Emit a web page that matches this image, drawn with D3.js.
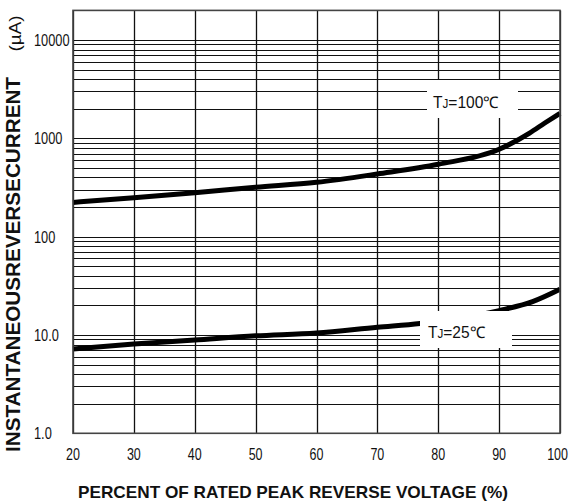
<!DOCTYPE html>
<html>
<head>
<meta charset="utf-8">
<script src="https://cdn.jsdelivr.net/npm/d3@7"></script>
<style>
  html, body { margin: 0; padding: 0; background: #fff; }
  svg { display: block; }
  .narrow { font-family: "Liberation Sans", Arial, sans-serif; }
</style>
</head>
<body>
<svg id="chart" width="572" height="503"></svg>
<script>
// ---- data ----
const xTicks = [20, 30, 40, 50, 60, 70, 80, 90, 100];
const yTickValues = [1, 10, 100, 1000, 10000];
const yTickLabels = ["1.0", "10.0", "100", "1000", "10000"];
const pct100 = [20, 30, 40, 50, 60, 70, 80, 90, 95, 97.5, 100];
const cur100 = [223, 249, 280, 318, 357, 434, 544, 773, 1132, 1431, 1797];
const pct25 = [20, 30, 40, 50, 60, 70, 77, 90, 95.5, 100];
const cur25 = [7.2, 8.1, 8.9, 9.8, 10.5, 12.0, 13.1, 17.7, 21.8, 29.1];
const xTitle = "PERCENT OF RATED PEAK REVERSE VOLTAGE (%)";
const yTitle = "INSTANTANEOUSREVERSECURRENT";
const yUnit = "(\u00B5A)";

// ---- layout ----
const L = 73, R = 560, T = 10.4, B = 433.3;
const svg = d3.select("#chart");
const x = d3.scaleLinear().domain([20, 100]).range([L, R]);
const y = d3.scaleLog().domain([1, 20000]).range([B, T]);

// narrow (Arial-Narrow-like) width of a numeric string at a font size
function narrowLen(s, fs, f) {
  let w = 0;
  for (const c of String(s)) w += (c === "." ? 0.278 : 0.556);
  return w * fs * f;
}

// horizontal log grid
const gridVals = [];
for (let d = 1; d <= 1000; d *= 10) for (let k = 1; k <= 9; k++) gridVals.push(k * d);
gridVals.push(10000);

const g = svg.append("g");
g.selectAll("line.h").data(gridVals).join("line")
  .attr("x1", L).attr("x2", R)
  .attr("y1", d => Math.round(y(d)) + 0.5).attr("y2", d => Math.round(y(d)) + 0.5)
  .attr("stroke", "#111").attr("stroke-width", 1.2);
g.selectAll("line.v").data(xTicks).join("line")
  .attr("y1", T).attr("y2", B)
  .attr("x1", d => Math.round(x(d)) + 0.5).attr("x2", d => Math.round(x(d)) + 0.5)
  .attr("stroke", "#111").attr("stroke-width", 1.3);

// curves
const line = d3.line().x(d => x(d[0])).y(d => y(d[1])).curve(d3.curveMonotoneX);
svg.append("path").datum(pct100.map((p, i) => [p, cur100[i]]))
  .attr("d", line).attr("fill", "none").attr("stroke", "#000").attr("stroke-width", 5);
svg.append("path").datum(pct25.map((p, i) => [p, cur25[i]]))
  .attr("d", line).attr("fill", "none").attr("stroke", "#000").attr("stroke-width", 5);

// labels with white boxes
function tjLabel(bx, by, bw, bh, tx, ty, temp, len) {
  svg.append("rect").attr("x", bx).attr("y", by).attr("width", bw).attr("height", bh).attr("fill", "#fff");
  const t = svg.append("text").attr("class", "narrow").attr("x", tx).attr("y", ty)
    .attr("font-size", 16).attr("fill", "#111")
    .attr("textLength", len).attr("lengthAdjust", "spacingAndGlyphs");
  t.append("tspan").text("T");
  t.append("tspan").attr("font-size", 12).text("J");
  t.append("tspan").text("=" + temp + "\u2103");
}
tjLabel(427, 80, 91, 38, 433, 108, "100", 66);
tjLabel(420, 311, 92, 37, 428, 338, "25", 57);

// frame
svg.append("rect").attr("x", L).attr("y", T).attr("width", R - L).attr("height", B - T)
  .attr("fill", "none").attr("stroke", "#444").attr("stroke-width", 1.6);

// tick labels
svg.selectAll("text.yt").data(yTickValues).join("text")
  .attr("class", "narrow yt").attr("x", 34).attr("y", d => y(d) + 6)
  .attr("font-size", 16).attr("fill", "#111")
  .attr("textLength", (d, i) => narrowLen(yTickLabels[i], 16, 0.8))
  .attr("lengthAdjust", "spacingAndGlyphs")
  .text((d, i) => yTickLabels[i]);
const lastX = xTicks[xTicks.length - 1];
svg.selectAll("text.xt").data(xTicks).join("text")
  .attr("class", "narrow xt")
  .attr("x", d => d === lastX ? x(d) + 8 : x(d))
  .attr("y", 460)
  .attr("text-anchor", d => d === lastX ? "end" : "middle")
  .attr("font-size", 16).attr("fill", "#111")
  .attr("textLength", d => narrowLen(d, 16, 0.78))
  .attr("lengthAdjust", "spacingAndGlyphs")
  .text(d => d);

// axis titles
svg.append("text").attr("x", 293).attr("y", 498).attr("text-anchor", "middle")
  .attr("font-family", "Liberation Sans, Arial, sans-serif").attr("font-weight", "bold")
  .attr("font-size", 17).attr("textLength", 430).attr("lengthAdjust", "spacingAndGlyphs")
  .attr("fill", "#111").text(xTitle);
svg.append("text").attr("transform", "translate(20,264.5) rotate(-90)").attr("text-anchor", "middle")
  .attr("font-family", "Liberation Sans, Arial, sans-serif").attr("font-weight", "bold")
  .attr("font-size", 20).attr("textLength", 375).attr("lengthAdjust", "spacingAndGlyphs")
  .attr("fill", "#111").text(yTitle);
svg.append("text").attr("transform", "translate(21,33.5) rotate(-90)").attr("text-anchor", "middle")
  .attr("class", "narrow").attr("font-size", 16).attr("fill", "#111")
  .attr("textLength", 36).attr("lengthAdjust", "spacingAndGlyphs").text(yUnit);
</script>
</body>
</html>
